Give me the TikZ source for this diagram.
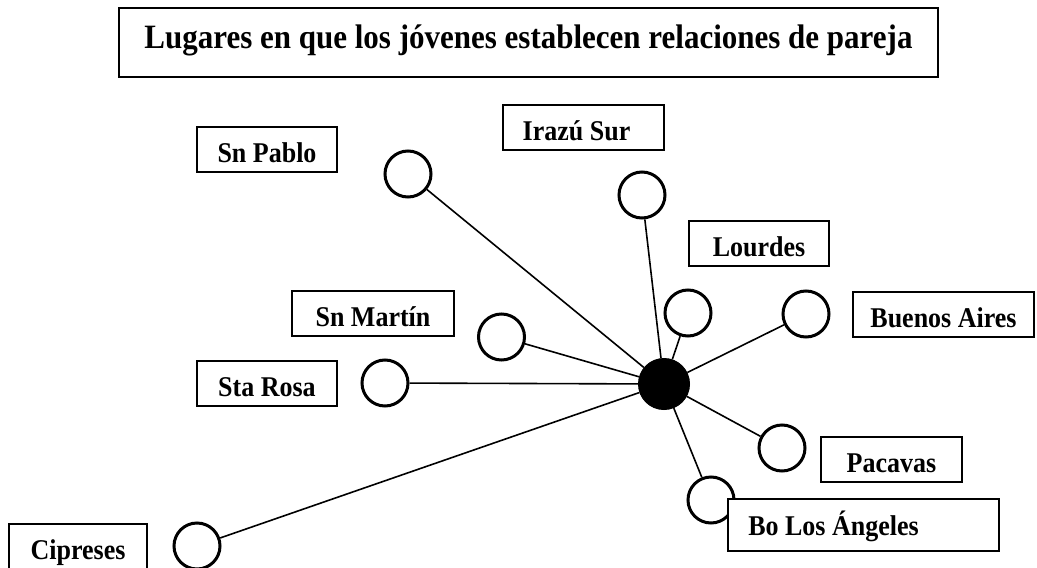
\documentclass[tikz,border=0pt]{standalone}
\usepackage{fontspec}
\usepackage{graphicx}
\setmainfont{Liberation Serif}
\newcommand{\tallt}[1]{\scalebox{1}[1.1]{#1}}
\begin{document}
\begin{tikzpicture}[x=1pt,y=-1pt,
  lbl/.style={draw, line width=1.9pt, fill=white,
    font=\fontsize{26}{30}\selectfont\bfseries,
    minimum height=45pt, text height=25pt, text depth=0pt,
    inner sep=0pt, outer sep=0pt},
  ring/.style={circle, draw, line width=3pt, fill=white, minimum size=46pt, inner sep=0pt},
  hub/.style={circle, draw, fill=black, line width=1pt, minimum size=51pt, inner sep=0pt},
  link/.style={line width=1.6pt}]
\useasboundingbox (0,0) rectangle (1037,568);

% circles
\node[ring] (cpablo)   at (408,174) {};
\node[ring] (cirazu)   at (642,195) {};
\node[ring] (clourdes) at (688,313) {};
\node[ring] (cbaires)  at (806,314) {};
\node[ring] (cmartin)  at (501.5,337) {};
\node[ring] (crosa)    at (385,383) {};
\node[ring] (cpacavas) at (782,448) {};
\node[ring] (cangeles) at (711,500) {};
\node[ring] (ccipres)  at (197,546) {};
\node[hub]  (hub)      at (664,384) {};

% connectors
\draw[link] (hub) -- (cpablo);
\draw[link] (hub) -- (cirazu);
\draw[link] (hub) -- (clourdes);
\draw[link] (hub) -- (cbaires);
\draw[link] (hub) -- (cmartin);
\draw[link] (hub) -- (crosa);
\draw[link] (hub) -- (cpacavas);
\draw[link] (hub) -- (cangeles);
\draw[link] (hub) -- (ccipres);

% label boxes
\node[lbl, font=\fontsize{31}{36}\selectfont\bfseries, minimum width=819pt,
      minimum height=69pt, text height=11pt] (title) at (528.5,42.5)
      {\tallt{Lugares en que los jóvenes establecen relaciones de pareja}};
\node[lbl, minimum width=140pt] (pablo)    at (267,149.5) {\tallt{Sn Pablo}};
\node[lbl, minimum width=161pt] (irazu)    at (583.5,127.5) {\tallt{Irazú Sur}\hspace*{14pt}};
\node[lbl, minimum width=140pt] (lourdes)  at (759,243.5) {\tallt{Lourdes}};
\node[lbl, minimum width=181pt] (baires)   at (943.5,314.5) {\tallt{Buenos Aires}};
\node[lbl, minimum width=162pt] (martin)   at (373,313.5) {\tallt{Sn Martín}};
\node[lbl, minimum width=140pt] (rosa)     at (267,383.5) {\tallt{Sta Rosa}};
\node[lbl, minimum width=141pt] (pacavas)  at (891.5,459.5) {\tallt{Pacavas}};
\node[lbl, minimum width=271pt, minimum height=52pt, text height=20pt] (angeles) at (863.5,525)
      {\tallt{Bo Los Ángeles}\hspace*{60pt}};
\node[lbl, minimum width=138pt] (cipreses) at (78,546.5) {\tallt{Cipreses}};
\end{tikzpicture}
\end{document}
